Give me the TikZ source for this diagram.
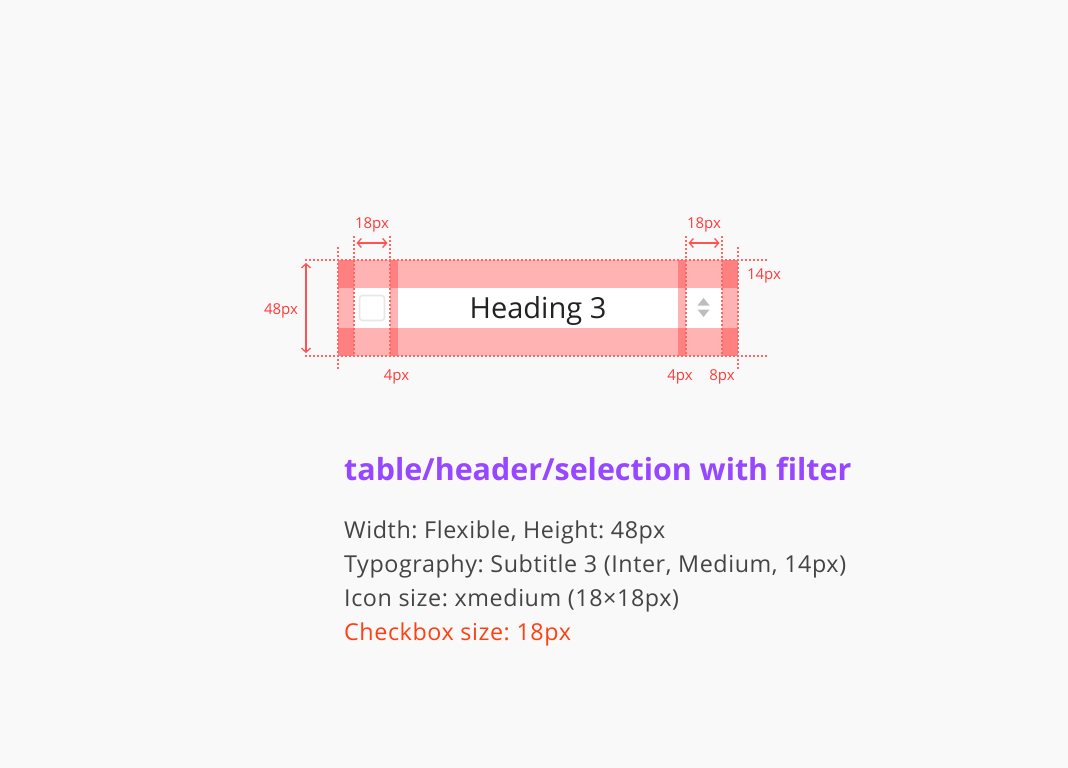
\documentclass[tikz,border=0pt]{standalone}
\usepackage{fontspec}
\setmainfont{Open Sans}
\newfontfamily\bodyfont{Open Sans}[LetterSpace=2.5]
\usetikzlibrary{arrows.meta}
\definecolor{bg}{HTML}{F9F9F9}
\definecolor{pinkL}{HTML}{FFB3B3}
\definecolor{pinkD}{HTML}{FF8080}
\definecolor{dimred}{HTML}{FF5252}
\definecolor{dimtext}{HTML}{FF3B3B}
\definecolor{dotred}{HTML}{FF6666}
\definecolor{titlepurple}{HTML}{9747FF}
\definecolor{bodygray}{HTML}{444444}
\definecolor{warnred}{HTML}{FF4013}
\definecolor{cbgray}{HTML}{E8E8E8}
\definecolor{icongray}{HTML}{BDBDBD}
\definecolor{headtext}{HTML}{222222}
\frenchspacing
\tikzset{
  dotline/.style={draw=dotred, line width=1.4pt, dash pattern=on 2pt off 2pt},
  dimarrow/.style={draw=dimred, line width=1.3pt, {Straight Barb[length=4pt,width=9pt]}-{Straight Barb[length=4pt,width=9pt]}},
  dimlabel/.style={text=dimtext, font=\fontsize{15}{18}\selectfont, inner sep=0pt, anchor=base},
  bodyline/.style={text=bodygray, font=\bodyfont\fontsize{23.3}{27}\selectfont, inner sep=0pt, anchor=base west},
}
\begin{document}
\begin{tikzpicture}[x=1pt,y=-1pt]
\useasboundingbox (0,0) rectangle (1068,768);
\fill[bg] (0,0) rectangle (1068,768);
% component stripes
\node[fill=pinkL, minimum width=400pt, minimum height=96pt, inner sep=0pt, draw=none] (comp) at (538,308) {};
\fill[white] (354,288) rectangle (390,328);
\fill[white] (398,288) rectangle (678,328);
\fill[white] (686,288) rectangle (722,328);
\foreach \a/\b in {338/354,390/398,678/686,722/738}{
  \fill[pinkD] (\a,260) rectangle (\b,288);
  \fill[pinkD] (\a,328) rectangle (\b,356);
}
% checkbox
\node[draw=cbgray, line width=1.6pt, fill=white, rounded corners=3pt, minimum size=25pt, inner sep=0pt] (cb) at (372,308) {};
% sort icon
\fill[icongray] (697.5,305.5) -- (703.5,298) -- (709.5,305.5) -- cycle;
\fill[icongray] (697.5,309.5) -- (703.5,317) -- (709.5,309.5) -- cycle;
\node (sorticon) at (703.5,308) {};
% heading text
\node[text=headtext, font=\fontsize{29}{32}\selectfont, inner sep=0pt, anchor=base] (head) at (538,318.5) {Heading 3};
% dotted guides
\draw[dotline] (305,260) -- (768,260);
\draw[dotline] (305,356) -- (768,356);
\draw[dotline] (338,247) -- (338,370);
\draw[dotline] (738,247) -- (738,370);
\draw[dotline] (354,236) -- (354,356);
\draw[dotline] (390,236) -- (390,356);
\draw[dotline] (686,236) -- (686,356);
\draw[dotline] (722,236) -- (722,356);
% dimension arrows
\coordinate (l1) at (356.5,243);
\coordinate (l2) at (387.5,243);
\coordinate (r1) at (688.5,243);
\coordinate (r2) at (719.5,243);
\coordinate (v1) at (306,263);
\coordinate (v2) at (306,353);
\draw[dimarrow] (l1) -- (l2);
\draw[dimarrow] (r1) -- (r2);
\draw[dimarrow] (v1) -- (v2);
% dimension labels
\node[dimlabel] (lab18a) at (372,228) {18px};
\node[dimlabel] (lab18b) at (704,228) {18px};
\node[dimlabel] (lab48) at (281,314) {48px};
\node[dimlabel] (lab14) at (764,279) {14px};
\node[dimlabel] (lab4a) at (396.5,380) {4px};
\node[dimlabel] (lab4b) at (680,380) {4px};
\node[dimlabel] (lab8) at (722,380) {8px};
% description
\node[text=titlepurple, font=\fontsize{30.4}{36}\bfseries\selectfont, inner sep=0pt, anchor=base west] (title) at (344,480) {table/header/selection with filter};
\node[bodyline] (d1) at (344,538) {Width: Flexible, Height: 48px};
\node[bodyline] (d2) at (344,572) {Typography: Subtitle 3 (Inter, Medium, 14px)};
\node[bodyline] (d3) at (344,606) {Icon size: xmedium (18×18px)};
\node[bodyline, text=warnred] (d4) at (344,640) {Checkbox size: 18px};
\end{tikzpicture}
\end{document}
